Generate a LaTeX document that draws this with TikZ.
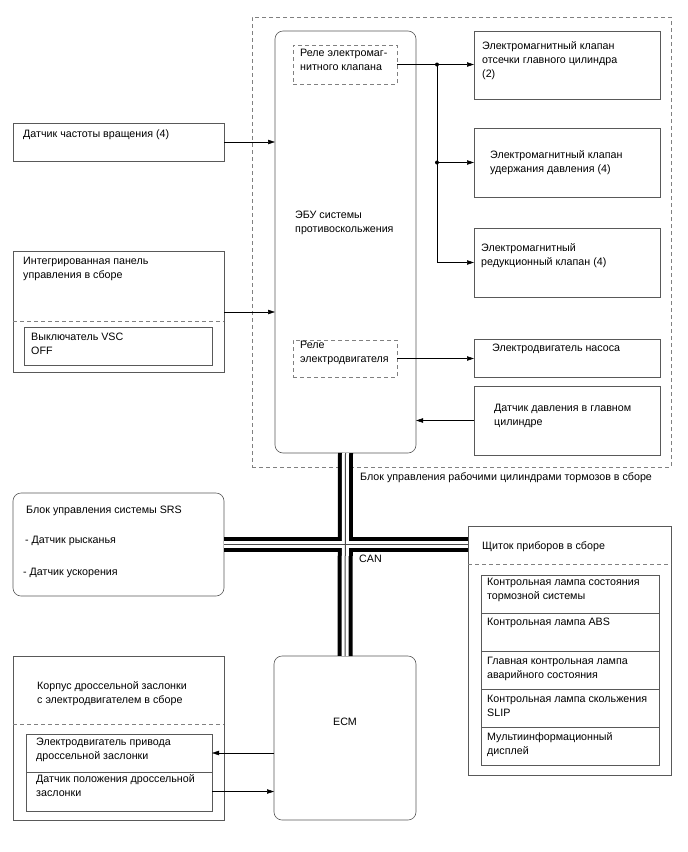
\documentclass[tikz,border=0pt]{standalone}
\usepackage{fontspec}
\setmainfont{Liberation Sans}
\usetikzlibrary{arrows.meta,calc}
\begin{document}
\begin{tikzpicture}[x=1pt,y=-1pt,
  box/.style={draw=black!65, line width=0.6pt, anchor=north west, inner sep=0pt, outer sep=0pt},
  rbox/.style={box, rounded corners=8pt},
  dbox/.style={box, draw=black!50, dash pattern=on 4pt off 3pt},
  sepline/.style={draw=black!50, line width=0.6pt, dash pattern=on 4pt off 3pt},
  txt/.style={anchor=north west, align=left, inner sep=0pt, yshift=-1pt, font=\fontsize{10.7}{14}\selectfont},
  arr/.style={-{Triangle[length=7pt,width=4.5pt]}, line width=0.5pt},
  ln/.style={line width=0.5pt},
]
\path[use as bounding box, fill=white] (0,0) rectangle (688,852);

% brake actuator assembly
\node[dbox, minimum width=419, minimum height=450] (brk) at (252,17) {};
\node[rbox, minimum width=141, minimum height=422] (ecu) at (275,31) {};
\node[dbox, minimum width=104, minimum height=39] (rel1) at (293,45) {};
\node[dbox, minimum width=104, minimum height=37] (rel2) at (293,340) {};
\node[txt] (trel1) at (300,48) {Реле электромаг-\\нитного клапана};
\node[txt] (tecu) at (295,210) {ЭБУ системы\\противоскольжения};
\node[txt] (trel2) at (300,340) {Реле\\электродвигателя};

\node[box, minimum width=186, minimum height=68] (A) at (474,31) {};
\node[box, minimum width=186, minimum height=69] (B) at (474,128) {};
\node[box, minimum width=186, minimum height=69] (C) at (474,228) {};
\node[box, minimum width=186, minimum height=38] (D) at (474,339) {};
\node[box, minimum width=186, minimum height=69] (E) at (474,386) {};
\node[txt] (tA) at (482,40) {Электромагнитный клапан\\отсечки главного цилиндра\\(2)};
\node[txt] (tB) at (490,149) {Электромагнитный клапан\\удержания давления (4)};
\node[txt] (tC) at (481,242) {Электромагнитный\\редукционный клапан (4)};
\node[txt] (tD) at (492,343) {Электродвигатель насоса};
\node[txt] (tE) at (494,403) {Датчик давления в главном\\цилиндре};
\node[txt] (tbrk) at (360,471) {Блок управления рабочими цилиндрами тормозов в сборе};

% left inputs
\node[box, minimum width=211, minimum height=38] (spd) at (13,123) {};
\node[txt] (tspd) at (23,129) {Датчик частоты вращения (4)};
\node[box, minimum width=211, minimum height=121] (panel) at (13,251) {};
\node[txt] (tpanel) at (23,256) {Интегрированная панель\\управления в сборе};
\draw[sepline] ($(panel.north west)+(0,70)$) -- ($(panel.north east)+(0,70)$);
\node[box, minimum width=188, minimum height=38] (vsc) at (24,327) {};
\node[txt] (tvsc) at (31,332) {Выключатель VSC\\OFF};

% SRS
\node[rbox, minimum width=211, minimum height=103] (srs) at (13,493) {};
\node[txt] (tsrs1) at (26,505) {Блок управления системы SRS};
\node[txt] (tsrs2) at (25,535) {- Датчик рысканья};
\node[txt] (tsrs3) at (23,567) {- Датчик ускорения};

% combination meter
\node[box, minimum width=203, minimum height=249] (cl) at (468,526) {};
\node[txt] (tcl) at (482,540) {Щиток приборов в сборе};
\draw[sepline] ($(cl.north west)+(0,38)$) -- ($(cl.north east)+(0,38)$);
\node[box, minimum width=178, minimum height=38] (r1) at (481,575) {};
\node[box, minimum width=178, minimum height=38] (r2) at (481,613) {};
\node[box, minimum width=178, minimum height=38] (r3) at (481,651) {};
\node[box, minimum width=178, minimum height=38] (r4) at (481,689) {};
\node[box, minimum width=178, minimum height=38] (r5) at (481,727) {};
\node[txt] (tr1) at (487,577) {Контрольная лампа состояния\\тормозной системы};
\node[txt] (tr2) at (487,617) {Контрольная лампа ABS};
\node[txt] (tr3) at (487,656) {Главная контрольная лампа\\аварийного состояния};
\node[txt] (tr4) at (487,694) {Контрольная лампа скольжения\\SLIP};
\node[txt] (tr5) at (487,731) {Мультиинформационный\\дисплей};

% ECM and throttle
\node[rbox, minimum width=142, minimum height=164] (ecm) at (274,656) {};
\node[txt, anchor=center, yshift=1pt] (tecm) at (345,722) {ECM};
\node[box, minimum width=211, minimum height=164] (thr) at (13,656) {};
\node[txt] (tthr) at (37,680) {Корпус дроссельной заслонки\\с электродвигателем в сборе};
\draw[sepline] ($(thr.north west)+(0,68)$) -- ($(thr.north east)+(0,68)$);
\node[box, minimum width=186, minimum height=38] (thr1) at (26,734) {};
\node[box, minimum width=186, minimum height=39] (thr2) at (26,772) {};
\node[txt] (tthr1) at (36,737) {Электродвигатель привода\\дроссельной заслонки};
\node[txt] (tthr2) at (36,773) {Датчик положения дроссельной\\заслонки};

% CAN bus
\node[txt] (tcan) at (359,554) {CAN};
\draw[line width=15pt] (srs.east) -- (srs.east -| cl.west);
\draw[line width=15pt] (ecu.south) -- (ecm.north);
\draw[line width=7pt, white] (srs.east) -- (srs.east -| cl.west);
\draw[line width=7pt, white] (ecu.south) -- (ecm.north);
\draw[line width=1pt, black!70] (srs.east) -- (srs.east -| cl.west);
\draw[line width=1pt, black!70] (ecu.south) -- (ecm.north);

% connectors
\coordinate (j1) at ($(rel1.east)+(40,0)$);
\draw[arr] (rel1.east) -- (rel1.east -| A.west);
\draw[arr] (j1 |- B.west) -- (B.west);
\draw[arr] (j1) |- (C.west);
\fill (j1) circle (2pt);
\fill (j1 |- B.west) circle (2pt);
\draw[arr] (rel2.east) -- (rel2.east -| D.west);
\draw[arr] (E.west) -- (E.west -| ecu.east);
\draw[arr] (spd.east) -- (spd.east -| ecu.west);
\coordinate (pa) at ($(panel.north east)+(0,61)$);
\draw[arr] (pa) -- (pa -| ecu.west);
\draw[arr] (thr1.east -| ecm.west) -- (thr1.east);
\draw[arr] (thr2.east) -- (thr2.east -| ecm.west);
\end{tikzpicture}
\end{document}
